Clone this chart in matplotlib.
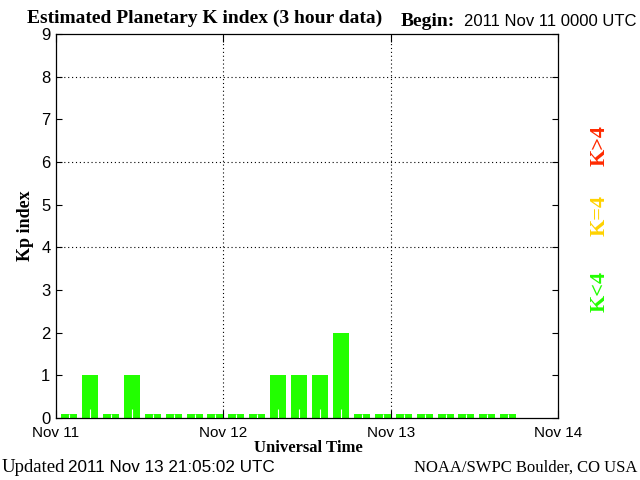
import matplotlib.pyplot as plt
import numpy as np

# Kp, 3 hour intervals starting 2011 Nov 11 00 UTC
kp = [0, 1, 0, 1, 0, 0, 0, 0,
      0, 0, 1, 1, 1, 2, 0, 0,
      0, 0, 0, 0, 0, 0]
day_labels = ['Nov 11', 'Nov 12', 'Nov 13', 'Nov 14']
ylabels = [str(i) for i in range(10)]

green = '#22ff00'
yellow = '#ffd200'
red = '#ff2a00'

fig = plt.figure(figsize=(6.4, 4.8), dpi=100)
ax = fig.add_axes([56/640, 1-418/480, (558-56)/640, (418-34)/480])

kp = np.array(kp, dtype=float)
slot = 0.125
x0 = np.arange(len(kp)) * slot + 0.03
w = 0.0955
h = np.where(kp == 0, 0.1, kp)
ax.bar(x0, h, width=w, align='edge', color=green, linewidth=0, zorder=2)
# little white split at the bottom of every bar
ax.vlines(x0 + w/2, 0, np.minimum(h, 0.2), color='white', lw=0.8, zorder=3)

ax.set_xlim(0, 3)
ax.set_ylim(0, 9)
for y in [4, 6, 8]:
    ax.axhline(y, color='black', lw=0.8, ls=(0, (1, 2.5)), zorder=1)
for x in [1, 2]:
    ax.axvline(x, color='black', lw=0.8, ls=(0, (1, 2.5)), zorder=1)

ax.set_xticks(range(4))
ax.set_xticklabels(day_labels, fontfamily='Liberation Sans', fontsize=11)
ax.set_yticks(range(10))
ax.set_yticklabels(ylabels, fontfamily='Liberation Sans', fontsize=12)
ax.tick_params(axis='y', direction='in', length=4, width=0.8, right=True, pad=4)
ax.tick_params(axis='x', direction='in', length=6, width=0.8, top=True, pad=6)
for s in ax.spines.values():
    s.set_linewidth(0.9)

ax.set_ylabel('Kp index', fontfamily='Liberation Serif', fontweight='bold', fontsize=13, labelpad=5)
fig.text(308/640, 1-448/480, 'Universal Time', fontfamily='Liberation Serif', fontweight='bold',
         fontsize=12, ha='center', va='center')

fig.text(27/640, 1-18/480, 'Estimated Planetary K index (3 hour data)', fontfamily='Liberation Serif',
         fontweight='bold', fontsize=14, ha='left', va='center')
fig.text(401/640, 1-21/480, 'Begin:', fontfamily='Liberation Serif', fontweight='bold',
         fontsize=14, ha='left', va='center')
fig.text(637/640, 1-21/480, '2011 Nov 11 0000 UTC', fontfamily='Liberation Sans',
         fontsize=12, ha='right', va='center')

fig.text(2/640, 1-468/480, 'Updated', fontfamily='Liberation Serif', fontsize=13.5, ha='left', va='center')
fig.text(68/640, 1-468/480, '2011 Nov 13 21:05:02 UTC', fontfamily='Liberation Sans',
         fontsize=12.3, ha='left', va='center')
fig.text(637/640, 1-468/480, 'NOAA/SWPC Boulder, CO USA', fontfamily='Liberation Serif',
         fontsize=12, ha='right', va='center')

for txt, col, yc in [('K>4', red, 146), ('K=4', yellow, 215), ('K<4', green, 291)]:
    fig.text(600/640, 1-yc/480, txt, color=col, rotation=90, fontfamily='Liberation Serif',
             fontweight='bold', fontsize=16, ha='center', va='center')

fig.savefig('out.png', dpi=100)
